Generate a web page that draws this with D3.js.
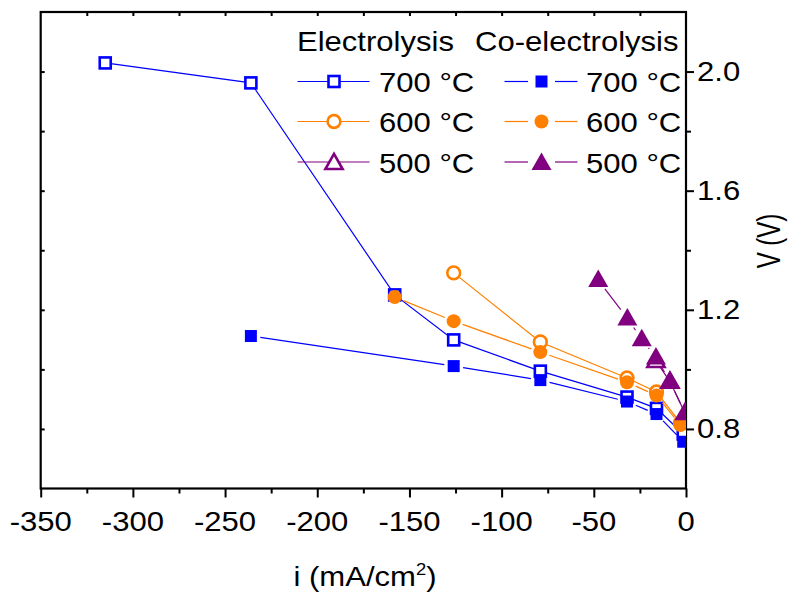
<!DOCTYPE html>
<html>
<head>
<meta charset="utf-8">
<script src="https://cdn.jsdelivr.net/npm/d3@7"></script>
<style>
  html, body { margin: 0; padding: 0; background: #fff; }
  svg { display: block; }
  text { font-family: "Liberation Sans", Arial, sans-serif; fill: #000; }
</style>
</head>
<body>
<svg id="chart" width="792" height="593"></svg>
<script>
// Polarisation curves: current density i (mA/cm2) vs cell voltage V (V)
const elec700 = [[-315, 2.029], [-236, 1.962], [-158, 1.250], [-126, 1.099], [-79, 0.994], [-32, 0.907], [-16, 0.869], [-1.5, 0.783]];
const elec600 = [[-126, 1.324], [-79, 1.092], [-32, 0.971], [-16, 0.924], [-3, 0.820]];
const elec500 = [[-16.3, 1.028], [-8.7, 0.959], [-0.5, 0.853]];
const coel700 = [[-236, 1.112], [-126, 1.011], [-79, 0.964], [-32, 0.892], [-16, 0.850], [-1.5, 0.757]];
const coel600 = [[-158, 1.243], [-126, 1.162], [-79, 1.058], [-32, 0.957], [-16, 0.912], [-3, 0.813]];
const coel500 = [[-47.6, 1.300], [-31.8, 1.171], [-24, 1.101], [-16.3, 1.040], [-8.7, 0.959], [-0.5, 0.853]];

const xTicks = [-350, -300, -250, -200, -150, -100, -50, 0];
const yTicks = [0.8, 1.2, 1.6, 2.0];
const tempLabels = ["700 \u00B0C", "600 \u00B0C", "500 \u00B0C"];
const groupTitles = ["Electrolysis", "Co-electrolysis"];

const BLUE = "#0000ff", ORANGE = "#ff8000", PURPLE = "#800080";
const SX = 1.15;        // horizontal widening of the lettering
const FS = 27;

const svg = d3.select("#chart");
const L = 40.7, R = 686, T = 12, B = 488.5;
const x = d3.scaleLinear().domain([-350, 0]).range([L, R]);
const y = d3.scaleLinear().domain([0.6, 2.2]).range([B, T]);

function label(g, px, py, str, anchor, size, sx) {
  return g.append("g").attr("transform", `translate(${px},${py}) scale(${sx || SX},1)`)
    .append("text").attr("text-anchor", anchor || "start")
    .attr("font-size", size || FS).text(str);
}

// clip region for the data
svg.append("defs").append("clipPath").attr("id", "plotclip")
  .append("rect").attr("x", L).attr("y", T).attr("width", R - L).attr("height", B - T);

// ---- axes ----
const axes = svg.append("g");
const minorX = d3.range(-325, 0, 50);
const allX = d3.range(-350, 1, 25);
const minorY = [1.0, 1.4, 1.8];
const allY = d3.range(0.8, 2.19, 0.2);

function tickRow(transform, axisFn, values, size) {
  axes.append("g").attr("transform", transform)
    .call(axisFn.tickValues(values).tickSize(size).tickFormat(""))
    .call(g => g.select(".domain").remove())
    .selectAll("line").attr("stroke", "#000").attr("stroke-width", 2);
}
// bottom axis: outward ticks
tickRow(`translate(0,${B})`, d3.axisBottom(x), xTicks, 9);
tickRow(`translate(0,${B})`, d3.axisBottom(x), minorX, 5);
// top axis: inward ticks
tickRow(`translate(0,${T})`, d3.axisBottom(x), allX.slice(1, -1), 4);
// right axis: outward ticks
tickRow(`translate(${R},0)`, d3.axisRight(y), yTicks, 8);
tickRow(`translate(${R},0)`, d3.axisRight(y), minorY, 5);
// left axis: inward ticks
tickRow(`translate(${L},0)`, d3.axisRight(y), allY, 4);

// frame
axes.append("rect").attr("x", L).attr("y", T).attr("width", R - L).attr("height", B - T)
  .attr("fill", "none").attr("stroke", "#000").attr("stroke-width", 2.2);

// tick labels
const labels = svg.append("g");
xTicks.forEach(v => label(labels, x(v), 531, String(v), "middle"));
yTicks.forEach(v => label(labels, 697, y(v) + 9.5, v.toFixed(1), "start"));

// axis titles
const xt = labels.append("g").attr("transform", `translate(${365},586) scale(${SX},1)`)
  .append("text").attr("text-anchor", "middle").attr("font-size", FS);
xt.append("tspan").text("i (mA/cm");
xt.append("tspan").attr("font-size", 16).attr("dy", -11).text("2");
xt.append("tspan").attr("dy", 11).text(")");

labels.append("g").attr("transform", `translate(780,241) rotate(-90) scale(1,1.38)`)
  .append("text").attr("text-anchor", "middle").attr("font-size", 24).text("V (V)");

// ---- markers ----
function marker(g, kind, filled, color) {
  if (kind === "square") {
    const s = filled ? 12 : 11;
    return g.append("rect").attr("x", -s / 2).attr("y", -s / 2).attr("width", s).attr("height", s)
      .attr("fill", filled ? color : "#fff").attr("stroke", filled ? "none" : color).attr("stroke-width", 2.6);
  }
  if (kind === "circle") {
    return g.append("circle").attr("r", filled ? 7 : 6.4)
      .attr("fill", filled ? color : "#fff").attr("stroke", filled ? "none" : color).attr("stroke-width", 2.6);
  }
  const h = filled ? 1 : 0.86;
  const p = [[0, -10.5 * h], [10 * h, 7 * h], [-10 * h, 7 * h]];
  return g.append("path").attr("d", "M" + p.map(q => q.join(",")).join("L") + "Z")
    .attr("fill", filled ? color : "#fff").attr("stroke", filled ? "none" : color)
    .attr("stroke-width", 2.6).attr("stroke-linejoin", "miter");
}

const plot = svg.append("g").attr("clip-path", "url(#plotclip)");

function drawSeries(data, color, kind, filled) {
  const g = plot.append("g");
  const pts = data.map(d => [x(d[0]), y(d[1])]);
  if (!filled) {
    g.append("path").attr("d", d3.line()(pts)).attr("fill", "none")
      .attr("stroke", color).attr("stroke-width", 1.2);
  } else {
    // lines leave a small gap around solid symbols
    const gap = kind === "triangle" ? 11 : 9.5;
    for (let k = 0; k < pts.length - 1; k++) {
      const [x0, y0] = pts[k], [x1, y1] = pts[k + 1];
      const len = Math.hypot(x1 - x0, y1 - y0);
      if (len <= 2 * gap) continue;
      const ux = (x1 - x0) / len, uy = (y1 - y0) / len;
      g.append("line")
        .attr("x1", x0 + ux * gap).attr("y1", y0 + uy * gap)
        .attr("x2", x1 - ux * gap).attr("y2", y1 - uy * gap)
        .attr("stroke", color).attr("stroke-width", 1.2);
    }
  }
  pts.forEach(p => marker(g.append("g").attr("transform", `translate(${p[0]},${p[1]})`), kind, filled, color));
}

drawSeries(elec700, BLUE, "square", false);
drawSeries(elec600, ORANGE, "circle", false);
drawSeries(elec500, PURPLE, "triangle", false);
drawSeries(coel700, BLUE, "square", true);
drawSeries(coel600, ORANGE, "circle", true);
drawSeries(coel500, PURPLE, "triangle", true);

// ---- legend ----
const leg = svg.append("g");
label(leg, 297, 51, groupTitles[0], "start");
label(leg, 475, 51, groupTitles[1], "start");
const colors = [BLUE, ORANGE, PURPLE];
const kinds = ["square", "circle", "triangle"];
const rowY = [81.5, 121.5, 162];
rowY.forEach((ry, k) => {
  // open-symbol entry
  leg.append("line").attr("x1", 297.5).attr("x2", 369.5).attr("y1", ry).attr("y2", ry)
    .attr("stroke", colors[k]).attr("stroke-width", 1.2);
  marker(leg.append("g").attr("transform", `translate(334,${ry + (k === 2 ? 1 : 0)})`), kinds[k], false, colors[k]);
  label(leg, 379, ry + 10.5, tempLabels[k], "start");
  // solid-symbol entry
  leg.append("line").attr("x1", 504.5).attr("x2", 528).attr("y1", ry).attr("y2", ry)
    .attr("stroke", colors[k]).attr("stroke-width", 1.2);
  leg.append("line").attr("x1", 555).attr("x2", 577.5).attr("y1", ry).attr("y2", ry)
    .attr("stroke", colors[k]).attr("stroke-width", 1.2);
  marker(leg.append("g").attr("transform", `translate(541.5,${ry + (k === 2 ? 1 : 0)})`), kinds[k], true, colors[k]);
  label(leg, 586, ry + 10.5, tempLabels[k], "start");
});
</script>
</body>
</html>
